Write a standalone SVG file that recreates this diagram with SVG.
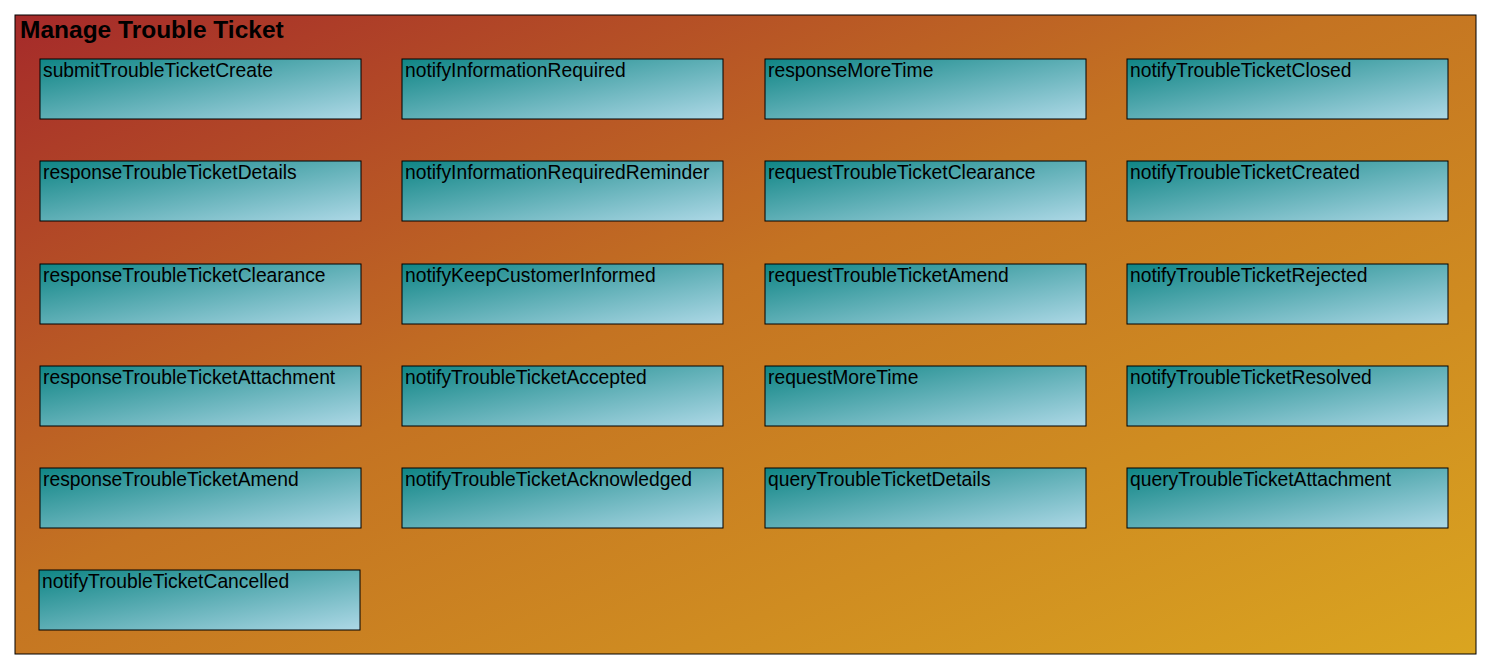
<svg xmlns="http://www.w3.org/2000/svg" width="1492" height="669" viewBox="0 0 1492 669">
<defs>
<linearGradient id="bg" x1="0" y1="0" x2="1" y2="1"><stop offset="0" stop-color="#a52a2a"/><stop offset="0.45" stop-color="#c47322"/><stop offset="1" stop-color="#daa520"/></linearGradient>
<linearGradient id="nd" x1="0" y1="0" x2="1" y2="1"><stop offset="0" stop-color="#0f8585"/><stop offset="1" stop-color="#add8e6"/></linearGradient>
</defs>
<style>
.n rect{fill:url(#nd);stroke:#000;stroke-width:1}
.n text{font-family:"Liberation Sans",Arial,sans-serif;font-size:19.3px;fill:#000}
.t{font-family:"Liberation Sans",Arial,sans-serif;font-size:24.5px;font-weight:bold;fill:#000}
</style>
<g id="frame"><rect x="15" y="15" width="1461" height="639" fill="url(#bg)" stroke="#000"/><text class="t" x="20" y="38">Manage Trouble Ticket</text></g>
<g id="n1" class="n"><rect x="40" y="59" width="321" height="60"/><text x="43" y="77">submitTroubleTicketCreate</text></g>
<g id="n2" class="n"><rect x="402" y="59" width="321" height="60"/><text x="405" y="77">notifyInformationRequired</text></g>
<g id="n3" class="n"><rect x="765" y="59" width="321" height="60"/><text x="768" y="77">responseMoreTime</text></g>
<g id="n4" class="n"><rect x="1127" y="59" width="321" height="60"/><text x="1130" y="77">notifyTroubleTicketClosed</text></g>
<g id="n5" class="n"><rect x="40" y="161" width="321" height="60"/><text x="43" y="179">responseTroubleTicketDetails</text></g>
<g id="n6" class="n"><rect x="402" y="161" width="321" height="60"/><text x="405" y="179">notifyInformationRequiredReminder</text></g>
<g id="n7" class="n"><rect x="765" y="161" width="321" height="60"/><text x="768" y="179">requestTroubleTicketClearance</text></g>
<g id="n8" class="n"><rect x="1127" y="161" width="321" height="60"/><text x="1130" y="179">notifyTroubleTicketCreated</text></g>
<g id="n9" class="n"><rect x="40" y="264" width="321" height="60"/><text x="43" y="282">responseTroubleTicketClearance</text></g>
<g id="n10" class="n"><rect x="402" y="264" width="321" height="60"/><text x="405" y="282">notifyKeepCustomerInformed</text></g>
<g id="n11" class="n"><rect x="765" y="264" width="321" height="60"/><text x="768" y="282">requestTroubleTicketAmend</text></g>
<g id="n12" class="n"><rect x="1127" y="264" width="321" height="60"/><text x="1130" y="282">notifyTroubleTicketRejected</text></g>
<g id="n13" class="n"><rect x="40" y="366" width="321" height="60"/><text x="43" y="384">responseTroubleTicketAttachment</text></g>
<g id="n14" class="n"><rect x="402" y="366" width="321" height="60"/><text x="405" y="384">notifyTroubleTicketAccepted</text></g>
<g id="n15" class="n"><rect x="765" y="366" width="321" height="60"/><text x="768" y="384">requestMoreTime</text></g>
<g id="n16" class="n"><rect x="1127" y="366" width="321" height="60"/><text x="1130" y="384">notifyTroubleTicketResolved</text></g>
<g id="n17" class="n"><rect x="40" y="468" width="321" height="60"/><text x="43" y="486">responseTroubleTicketAmend</text></g>
<g id="n18" class="n"><rect x="402" y="468" width="321" height="60"/><text x="405" y="486">notifyTroubleTicketAcknowledged</text></g>
<g id="n19" class="n"><rect x="765" y="468" width="321" height="60"/><text x="768" y="486">queryTroubleTicketDetails</text></g>
<g id="n20" class="n"><rect x="1127" y="468" width="321" height="60"/><text x="1130" y="486">queryTroubleTicketAttachment</text></g>
<g id="n21" class="n"><rect x="39" y="570" width="321" height="60"/><text x="42" y="588">notifyTroubleTicketCancelled</text></g>
<g id="connectors"/>
</svg>
